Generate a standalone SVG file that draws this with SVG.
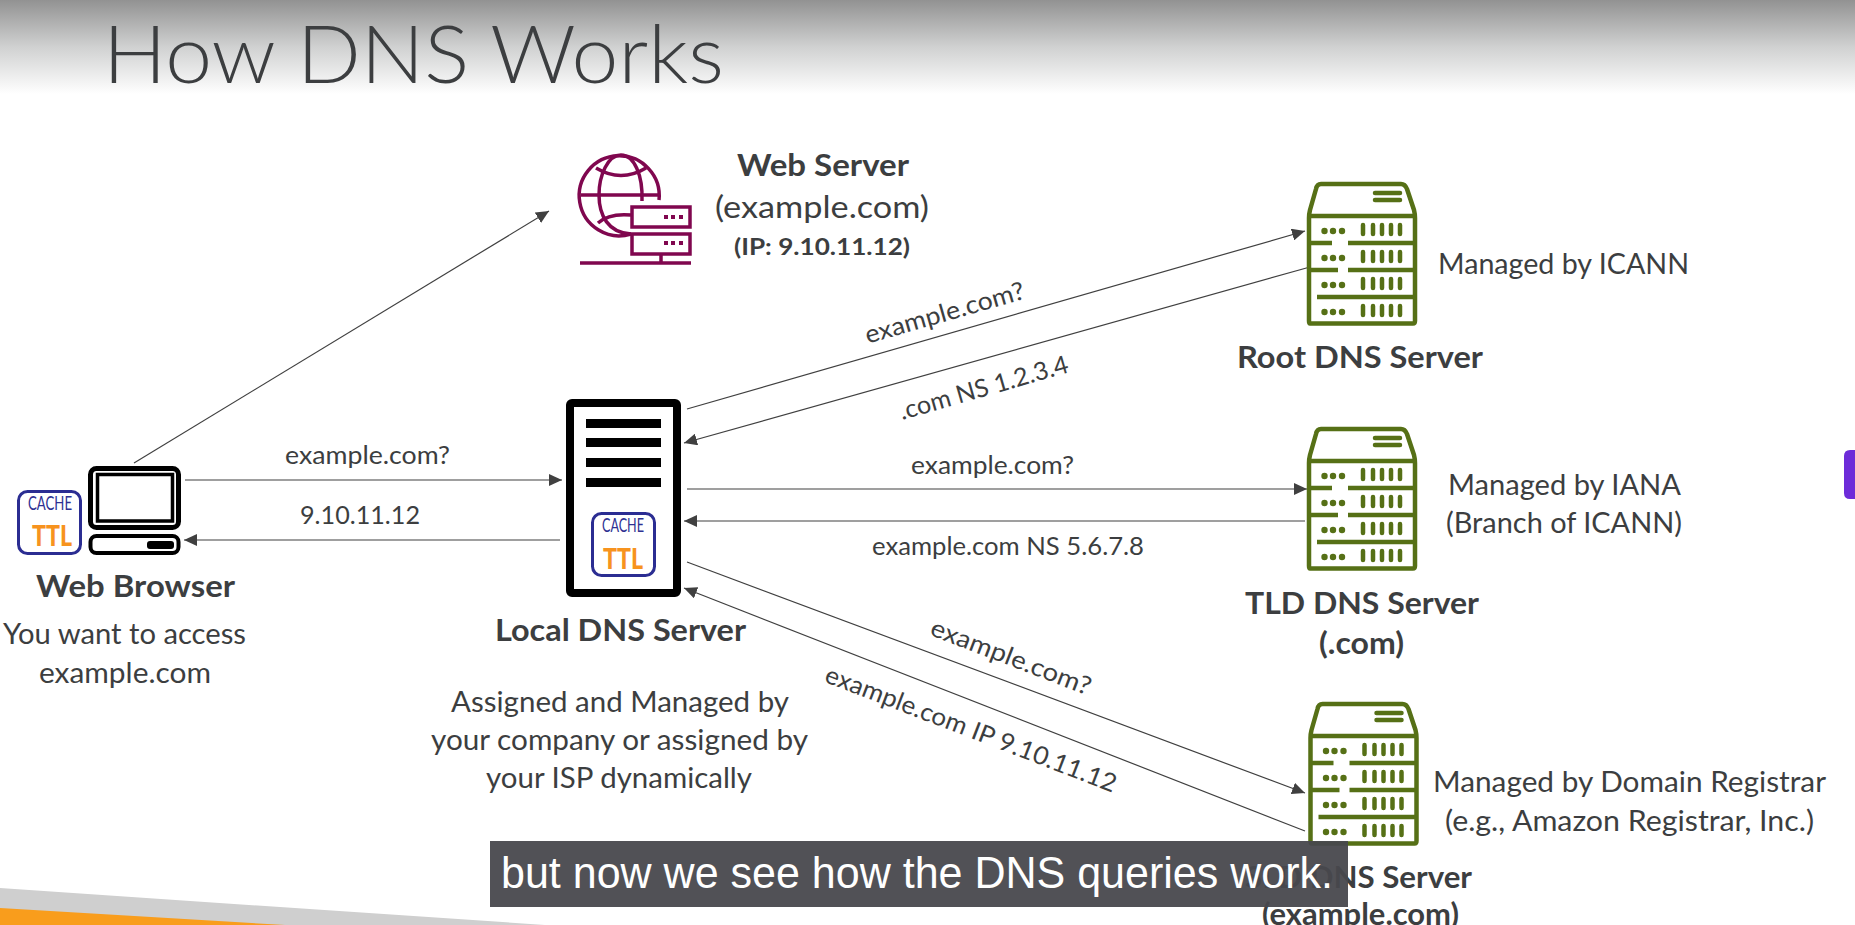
<svg xmlns="http://www.w3.org/2000/svg" width="1855" height="925" viewBox="0 0 1855 925">
<style>
text{font-family:"Lato","Open Sans","Liberation Sans",sans-serif;fill:#3c3e40;font-size:29px}
.b{font-weight:700;font-size:31px}
.l{font-size:25px}
.c{font-size:19px;fill:#2e3192}
.ttl{font-size:28px;font-weight:900;fill:#f7931e}
.conn{fill:none;stroke:#404040;stroke-width:1.2;marker-end:url(#ah)}
.srv{fill:none;stroke:#567016;stroke-width:4.500;stroke-linecap:round;stroke-linejoin:round}
.srvb{stroke-linecap:butt}
.web{fill:none;stroke:#80074f;stroke-width:3.500}
.k{fill:none;stroke:#000}
.cb{fill:#fff;stroke:#2b2d92;stroke-width:3}
</style>
<defs>
<linearGradient id="top" x1="0" y1="0" x2="0" y2="1"><stop offset="0" stop-color="#929292"/><stop offset="0.5" stop-color="#d0d1d1"/><stop offset="1" stop-color="#ffffff"/></linearGradient>
<marker id="ah" markerUnits="userSpaceOnUse" markerWidth="14" markerHeight="12" refX="13" refY="6" orient="auto"><path d="M0 0L13 6L0 12Z" fill="#404040"/></marker>
<g id="rack">
<path class="srv" d="M1310 323.500H1413Q1415 323.500 1415 321V218Q1415 214 1414 210L1407 189Q1405 184 1401 184H1321Q1317 184 1316 189L1310 210Q1309 214 1309 218V321Q1309 323.500 1310 323.500Z"/>
<path class="srv srvb" d="M1309 216H1415M1309 243H1332M1348 243H1415M1309 270H1338M1348 270H1415M1317 297H1415"/>
<path class="srv" d="M1375 193H1400M1375 200H1400M1363 225V234M1373 225V234M1382 225V234M1391 225V234M1400 225V234M1363 252V261M1373 252V261M1382 252V261M1391 252V261M1400 252V261M1363 279V288M1373 279V288M1382 279V288M1391 279V288M1400 279V288M1363 306V315M1373 306V315M1382 306V315M1391 306V315M1400 306V315"/>
<g fill="#567016"><circle cx="1324.500" cy="231" r="3.200"/><circle cx="1333" cy="231" r="3.200"/><circle cx="1342" cy="231" r="3.200"/><circle cx="1324.500" cy="258" r="3.200"/><circle cx="1333" cy="258" r="3.200"/><circle cx="1342" cy="258" r="3.200"/><circle cx="1324.500" cy="285" r="3.200"/><circle cx="1333" cy="285" r="3.200"/><circle cx="1342" cy="285" r="3.200"/><circle cx="1324.500" cy="312" r="3.200"/><circle cx="1333" cy="312" r="3.200"/><circle cx="1342" cy="312" r="3.200"/></g>
</g>
</defs>
<rect width="1855" height="925" fill="#fff"/>
<rect id="top-band" width="1855" height="94" fill="url(#top)"/>
<path d="M0 888L545 925H0Z" fill="#cfcfcf"/>
<path d="M0 908L285 925H0Z" fill="#f99d1c"/>
<path d="M1855 450H1850Q1844 450 1844 456V493Q1844 499 1850 499H1855Z" fill="#6d2bd9"/>
<text x="103" y="83" textLength="621" lengthAdjust="spacingAndGlyphs" style="font-size:80px;font-weight:300">How DNS Works</text>

<g id="connectors">
<path class="conn" d="M134 463L549 211"/>
<path class="conn" d="M687 409L1305 231"/>
<path class="conn" d="M1310 267L684 443"/>
<path class="conn" d="M185 480H562"/>
<path class="conn" d="M560 540H184"/>
<path class="conn" d="M687 489H1307"/>
<path class="conn" d="M1305 521H684"/>
<path class="conn" d="M687 562L1305 793"/>
<path class="conn" d="M1305 831L684 588"/>
<text class="l" x="285" y="464" textLength="165" lengthAdjust="spacingAndGlyphs">example.com?</text>
<text class="l" x="300" y="524" textLength="120" lengthAdjust="spacingAndGlyphs">9.10.11.12</text>
<text class="l" x="911" y="474" textLength="163" lengthAdjust="spacingAndGlyphs">example.com?</text>
<text class="l" x="872" y="555" textLength="272" lengthAdjust="spacingAndGlyphs">example.com NS 5.6.7.8</text>
<text class="l" text-anchor="middle" transform="translate(947 321) rotate(-16)" textLength="165" lengthAdjust="spacingAndGlyphs">example.com?</text>
<text class="l" text-anchor="middle" transform="translate(986 396) rotate(-16)" textLength="175" lengthAdjust="spacingAndGlyphs">.com NS 1.2.3.4</text>
<text class="l" text-anchor="middle" transform="translate(1008 665) rotate(21)" textLength="170" lengthAdjust="spacingAndGlyphs">example.com?</text>
<text class="l" text-anchor="middle" transform="translate(968 737) rotate(21)" textLength="310" lengthAdjust="spacingAndGlyphs">example.com IP 9.10.11.12</text>
</g>

<g id="web-server">
<path class="web" d="M659 200A40 40 0 1 0 631 234"/>
<path class="web" d="M581 195H659M642 201C643 175 634 155 621 155C608 155 599 175 599 195C599 215 608 233 631 234M596 168Q621 183 646 168M598 223Q609 213 631 215"/>
<rect class="web" x="632" y="207" width="58" height="20" fill="#fff"/>
<rect class="web" x="632" y="234" width="58" height="20" fill="#fff"/>
<path class="web" d="M661 254V263M580 263H691"/>
<g fill="#80074f"><rect x="664" y="215" width="4" height="4"/><rect x="671" y="215" width="4" height="4"/><rect x="679" y="215" width="4" height="4"/><rect x="664" y="241" width="4" height="4"/><rect x="671" y="241" width="4" height="4"/><rect x="679" y="241" width="4" height="4"/></g>
<text class="b" x="737" y="176" textLength="172" lengthAdjust="spacingAndGlyphs">Web Server</text>
<text x="715" y="218" textLength="214" lengthAdjust="spacingAndGlyphs" style="font-size:30px">(example.com)</text>
<text class="b" x="734" y="255" textLength="176" lengthAdjust="spacingAndGlyphs" style="font-size:23px">(IP: 9.10.11.12)</text>
</g>

<g id="root-dns">
<use href="#rack"/>
<text class="b" x="1237" y="368" textLength="246" lengthAdjust="spacingAndGlyphs">Root DNS Server</text>
<text x="1438" y="274" textLength="251" lengthAdjust="spacingAndGlyphs">Managed by ICANN</text>
</g>

<g id="tld-dns">
<use href="#rack" y="245"/>
<text class="b" x="1245" y="614" textLength="234" lengthAdjust="spacingAndGlyphs">TLD DNS Server</text>
<text class="b" x="1319" y="654" textLength="85" lengthAdjust="spacingAndGlyphs">(.com)</text>
<text x="1448" y="495" textLength="233" lengthAdjust="spacingAndGlyphs">Managed by IANA</text>
<text x="1446" y="533" textLength="236" lengthAdjust="spacingAndGlyphs">(Branch of ICANN)</text>
</g>

<g id="sld-dns">
<use href="#rack" x="1.500" y="520"/>
<text class="b" x="1245" y="888" textLength="227" lengthAdjust="spacingAndGlyphs">SLD DNS Server</text>
<text class="b" x="1262" y="925" textLength="197" lengthAdjust="spacingAndGlyphs">(example.com)</text>
<text x="1433" y="792" textLength="393" lengthAdjust="spacingAndGlyphs">Managed by Domain Registrar</text>
<text x="1445" y="831" textLength="369" lengthAdjust="spacingAndGlyphs">(e.g., Amazon Registrar, Inc.)</text>
</g>

<g id="web-browser">
<rect class="k" x="90.500" y="468.500" width="88" height="59" rx="6" stroke-width="5"/>
<rect class="k" x="97.500" y="474.500" width="75" height="46.500" stroke-width="3.500"/>
<rect class="k" x="90.500" y="536" width="88" height="17" rx="6" stroke-width="4"/>
<rect x="147" y="541" width="27" height="8" rx="3"/>
<rect class="cb" x="18.500" y="491.500" width="62" height="62" rx="9"/>
<text class="c" x="28" y="510" textLength="44" lengthAdjust="spacingAndGlyphs">CACHE</text>
<text class="ttl" x="32" y="546" textLength="40" lengthAdjust="spacingAndGlyphs">TTL</text>
<text class="b" x="36" y="597" textLength="199" lengthAdjust="spacingAndGlyphs">Web Browser</text>
<text x="3" y="644" textLength="243" lengthAdjust="spacingAndGlyphs">You want to access</text>
<text x="39" y="683" textLength="172" lengthAdjust="spacingAndGlyphs">example.com</text>
</g>

<g id="local-dns">
<rect class="k" x="570" y="403" width="107" height="190" rx="2" stroke-width="8" fill="#fff"/>
<rect x="586" y="419" width="75" height="9"/><rect x="586" y="438" width="75" height="9"/><rect x="586" y="458" width="75" height="9"/><rect x="586" y="478" width="75" height="9"/>
<rect class="cb" x="592.500" y="513.500" width="62" height="62" rx="9"/>
<text class="c" x="602" y="532" textLength="42" lengthAdjust="spacingAndGlyphs">CACHE</text>
<text class="ttl" x="603" y="569" textLength="40" lengthAdjust="spacingAndGlyphs">TTL</text>
<text class="b" x="495" y="641" textLength="251" lengthAdjust="spacingAndGlyphs">Local DNS Server</text>
<text x="451" y="712" textLength="338" lengthAdjust="spacingAndGlyphs">Assigned and Managed by</text>
<text x="431" y="750" textLength="377" lengthAdjust="spacingAndGlyphs">your company or assigned by</text>
<text x="486" y="788" textLength="266" lengthAdjust="spacingAndGlyphs">your ISP dynamically</text>
</g>

<g id="caption">
<rect x="490" y="841" width="858" height="66" fill="#48484d" fill-opacity="0.95"/>
<text x="501" y="888" textLength="832" lengthAdjust="spacingAndGlyphs" style="font-family:'Liberation Sans',Arial,sans-serif;font-size:44px;fill:#fff">but now we see how the DNS queries work.</text>
</g>
</svg>
